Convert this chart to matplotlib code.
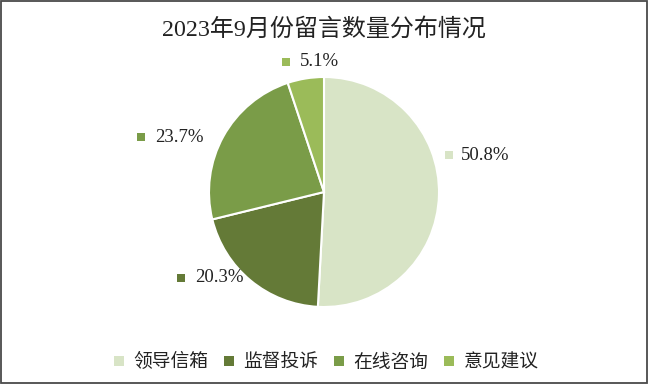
import matplotlib
matplotlib.use('Agg')
import matplotlib.pyplot as plt
from matplotlib.lines import Line2D
from matplotlib.patches import Rectangle

# data
categories = ['领导信箱', '监督投诉', '在线咨询', '意见建议']
values = [50.8, 20.3, 23.7, 5.1]
colors = ['#D8E4C6', '#647A37', '#7A9C48', '#9BBB59']
title = '2023年9月份留言数量分布情况'

fam = ['Liberation Serif', 'Noto Sans CJK SC']
cjk = ['Noto Sans CJK SC', 'DejaVu Sans']

W, H = 650, 386
R = 115.0          # pie radius in px
cx, cy = 324, 192  # pie centre in px (from top)

def px(x, y):
    # pixel position (from top-left) -> data coords of the pie axes
    return (x - cx) / R, (cy - y) / R

fig = plt.figure(figsize=(W / 100, H / 100), dpi=100)
ax = fig.add_axes([0, 0, 1, 1])
ax.pie(values, colors=colors, startangle=90, counterclock=False, radius=1,
       wedgeprops=dict(edgecolor='white', linewidth=1.5))
ax.set_xlim(-cx / R, (W - cx) / R)
ax.set_ylim(-(H - cy) / R, cy / R)
ax.set_aspect('equal')
ax.axis('off')

# data labels: marker centre x, text start x, y centre (px)
label_pos = [(449, 461, 155), (181, 195, 278), (141, 155, 137), (286, 300, 62)]
for v, c, (mx, tx, ty) in zip(values, colors, label_pos):
    x0, y0 = px(mx, ty)
    ax.scatter([x0], [y0], marker='s', s=33, color=c, linewidths=0, zorder=5)
    x1, _ = px(tx, ty)
    ax.text(x1, y0, '{0}%'.format(v), family=fam, fontsize=13.5,
            ha='left', va='center', color='#222222')

fig.text(324 / W, 1 - 29 / H, title, family=fam, fontsize=17.3,
         ha='center', va='center', color='#222222')

handles = [Line2D([], [], marker='s', linestyle='none', markersize=6.5,
                  markerfacecolor=c, markeredgewidth=0) for c in colors]
leg = fig.legend(handles, categories, loc='center', ncol=4,
                 bbox_to_anchor=(325 / W, 1 - 362 / H), frameon=False,
                 handlelength=0.8, handletextpad=0.35, columnspacing=0.72,
                 borderpad=0, prop={'family': cjk, 'size': 13.5})
for t in leg.get_texts():
    t.set_color('#222222')

fig.patches.append(Rectangle((1 / W, 3 / H), 646 / W, 382 / H,
                             transform=fig.transFigure, fill=False,
                             edgecolor='#4a4a4a', linewidth=1.3))

fig.savefig('out.png', dpi=100)
